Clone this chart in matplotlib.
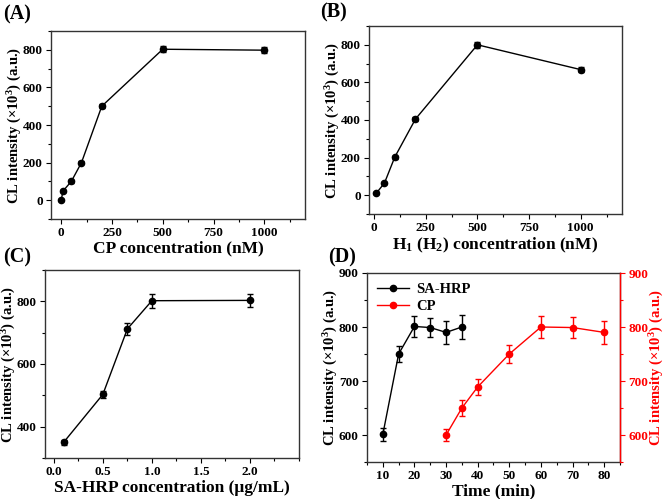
import matplotlib
matplotlib.use('Agg')
import matplotlib.pyplot as plt
from matplotlib.ticker import MultipleLocator
from matplotlib.lines import Line2D

plt.rcParams['font.family'] = ['Liberation Serif', 'DejaVu Serif']
plt.rcParams['font.weight'] = 'bold'
plt.rcParams['mathtext.fontset'] = 'custom'
plt.rcParams['mathtext.rm'] = 'Liberation Serif:bold'
plt.rcParams['mathtext.it'] = 'Liberation Serif:bold'
plt.rcParams['mathtext.bf'] = 'Liberation Serif:bold'

# (A) CP concentration
a_x = [0, 10, 50, 100, 200, 500, 1000]
a_y = [2, 50, 100, 200, 500, 803, 798]
a_err = [5, 5, 6, 8, 10, 15, 15]

# (B) H1 (H2) concentration
b_x = [10, 50, 100, 200, 500, 1000]
b_y = [10, 65, 203, 405, 800, 668]
b_err = [6, 6, 8, 10, 15, 15]

# (C) SA-HRP concentration
c_x = [0.1, 0.5, 0.75, 1.0, 2.0]
c_y = [350, 503, 712, 802, 803]
c_err = [8, 12, 18, 22, 22]

# (D) time
d_sa_x = [10, 15, 20, 25, 30, 35]
d_sa_y = [601, 750, 801, 799, 790, 800]
d_sa_err = [12, 15, 20, 18, 21, 22]
d_cp_x = [30, 35, 40, 50, 60, 70, 80]
d_cp_y = [600, 650, 689, 750, 800, 799, 790]
d_cp_err = [12, 14, 15, 17, 20, 20, 21]

ylabel = r'CL intensity ($\times$10$^3$) (a.u.)'
spine_c = '#333333'
TICK = 9.5
XLAB = 12.5
YLAB = 10.5
PANEL = 14.5

fig = plt.figure(figsize=(6.66, 4.99), dpi=100)
W, H = 666, 499


def make_ax(l, t, r, b):
    return fig.add_axes([l / W, 1 - b / H, (r - l) / W, (b - t) / H])


def style(ax):
    for s in ax.spines.values():
        s.set_color(spine_c)
        s.set_linewidth(1)
    ax.tick_params(which='both', direction='out', labelsize=TICK, width=0.8,
                   colors='black', top=False, right=False, pad=2.5)
    ax.tick_params(which='major', length=3.5)
    ax.tick_params(which='minor', length=2)


def series(ax, x, y, err, color):
    ax.errorbar(x, y, yerr=err, color=color, lw=1, marker='o', ms=4.5,
                mfc=color, mec=color, capsize=2.5, elinewidth=1, capthick=1)
    ax.plot(x, y, ls='none', marker='o', ms=1.5, mfc='white', mec='white')


# (A)
ax = make_ax(51, 31, 305, 219)
series(ax, a_x, a_y, a_err, 'black')
ax.set_xticks([0, 250, 500, 750, 1000])
ax.xaxis.set_minor_locator(MultipleLocator(125))
ax.yaxis.set_major_locator(MultipleLocator(200))
ax.yaxis.set_minor_locator(MultipleLocator(100))
ax.set_xlim(-50, 1200)
ax.set_ylim(-100, 900)
style(ax)
ax.set_xlabel('CP concentration (nM)', fontsize=XLAB, fontweight='bold', labelpad=1)
ax.set_ylabel(ylabel, fontsize=YLAB, fontweight='bold')
ax.yaxis.set_label_coords(-0.108, 0.5)
fig.text(3 / W, 1 - 14 / H, '(A)', fontsize=PANEL, fontweight='bold', va='center')

# (B)
ax = make_ax(369, 26, 622, 214)
series(ax, b_x, b_y, b_err, 'black')
ax.set_xticks([0, 250, 500, 750, 1000])
ax.xaxis.set_minor_locator(MultipleLocator(125))
ax.yaxis.set_major_locator(MultipleLocator(200))
ax.yaxis.set_minor_locator(MultipleLocator(100))
ax.set_xlim(-25, 1200)
ax.set_ylim(-100, 900)
style(ax)
ax.set_xlabel(r'H$_1$ (H$_2$) concentration (nM)', fontsize=XLAB, fontweight='bold', labelpad=1)
ax.set_ylabel(ylabel, fontsize=YLAB, fontweight='bold')
ax.yaxis.set_label_coords(-0.108, 0.5)
fig.text(320 / W, 1 - 12 / H, '(B)', fontsize=PANEL, fontweight='bold', va='center')

# (C)
ax = make_ax(45, 270, 299, 458)
series(ax, c_x, c_y, c_err, 'black')
ax.set_xticks([0.0, 0.5, 1.0, 1.5, 2.0])
ax.xaxis.set_minor_locator(MultipleLocator(0.25))
ax.yaxis.set_major_locator(MultipleLocator(200))
ax.yaxis.set_minor_locator(MultipleLocator(100))
ax.set_xlim(-0.09, 2.5)
ax.set_ylim(300, 900)
style(ax)
ax.set_xlabel('SA-HRP concentration (μg/mL)', fontsize=XLAB, fontweight='bold', labelpad=1)
ax.set_ylabel(ylabel, fontsize=YLAB, fontweight='bold')
ax.yaxis.set_label_coords(-0.106, 0.5)
fig.text(3 / W, 1 - 257 / H, '(C)', fontsize=PANEL, fontweight='bold', va='center')

# (D)
ax = make_ax(367, 273, 620, 462)
series(ax, d_sa_x, d_sa_y, d_sa_err, 'black')
ax.set_xlim(5, 85)
ax.set_ylim(550, 900)
ax.xaxis.set_major_locator(MultipleLocator(10))
ax.xaxis.set_minor_locator(MultipleLocator(5))
ax.yaxis.set_major_locator(MultipleLocator(100))
ax.yaxis.set_minor_locator(MultipleLocator(50))
style(ax)
ax.set_xlabel('Time (min)', fontsize=XLAB, fontweight='bold', labelpad=1)
ax.set_ylabel(ylabel, fontsize=YLAB, fontweight='bold')
ax.yaxis.set_label_coords(-0.108, 0.5)

ax2 = ax.twinx()
series(ax2, d_cp_x, d_cp_y, d_cp_err, 'red')
ax2.set_ylim(550, 900)
ax2.yaxis.set_major_locator(MultipleLocator(100))
ax2.yaxis.set_minor_locator(MultipleLocator(50))
for s in ax2.spines.values():
    s.set_visible(False)
ax2.spines['right'].set_visible(True)
ax2.spines['right'].set_color('red')
ax2.spines['right'].set_linewidth(1)
ax2.tick_params(which='both', direction='out', labelsize=TICK, width=0.8,
                colors='red', pad=2.5)
ax2.tick_params(which='major', length=3.5)
ax2.tick_params(which='minor', length=2)
ax2.set_ylabel(ylabel, fontsize=YLAB, fontweight='bold', color='red')
ax2.yaxis.set_label_coords(1.11, 0.5)

handles = [
    Line2D([], [], color='black', lw=1, marker='o', ms=4.5, mfc='black'),
    Line2D([], [], color='red', lw=1, marker='o', ms=4.5, mfc='red'),
]
ax.legend(handles, ['SA-HRP', 'CP'], loc='upper left', frameon=False,
          prop={'size': 10.5, 'weight': 'bold'}, handlelength=2.2,
          handletextpad=0.5, borderaxespad=0.3, labelspacing=0.25)
fig.text(328 / W, 1 - 257 / H, '(D)', fontsize=PANEL, fontweight='bold', va='center')

fig.savefig('out.png', dpi=100)
